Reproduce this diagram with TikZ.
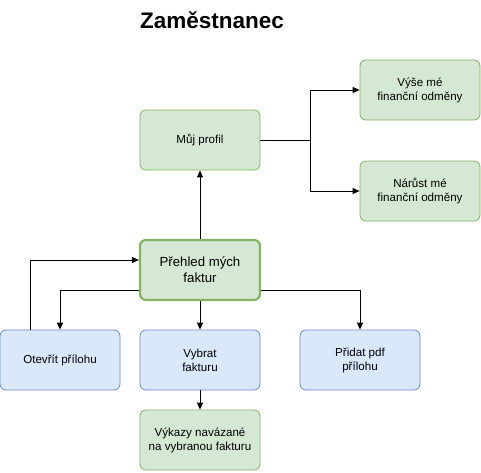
\documentclass[tikz,border=0pt]{standalone}
\usepackage{fontspec}
\setmainfont{Liberation Sans}
\usetikzlibrary{arrows.meta}
\definecolor{gfill}{HTML}{D5E8D4}
\definecolor{gline}{HTML}{82B366}
\definecolor{bfill}{HTML}{DAE8FC}
\definecolor{bline}{HTML}{6C8EBF}
\begin{document}
\begin{tikzpicture}[x=1pt,y=-1pt,
  box/.style={draw, rounded corners=6pt, minimum width=120pt, minimum height=60pt, align=center, font=\fontsize{11.6}{14}\selectfont, line width=0.8pt, inner sep=2pt},
  gbox/.style={box, draw=gline, fill=gfill},
  bbox/.style={box, draw=bline, fill=bfill},
  conn/.style={draw=black, line width=0.9pt, -{Triangle[length=7pt,width=6pt]}}
]
\useasboundingbox (0,0) rectangle (481,472);
\node[font=\fontsize{22.5}{26}\selectfont\bfseries] (title) at (212,20) {Zaměstnanec};
\node[gbox] (profil) at (200,140) {Můj profil};
\node[gbox] (vyse) at (420,90) {Výše mé\\finanční odměny};
\node[gbox] (narust) at (420,191) {Nárůst mé\\finanční odměny};
\node[gbox, line width=2.2pt, font=\fontsize{13.2}{16}\selectfont] (prehled) at (200,270) {Přehled mých\\faktur};
\node[bbox] (otevrit) at (60,360) {Otevřít přílohu};
\node[bbox] (vybrat) at (200,360) {Vybrat\\fakturu};
\node[bbox] (pridat) at (360,360) {Přidat pdf\\přílohu};
\node[gbox] (vykazy) at (200,440) {Výkazy navázané\\na vybranou fakturu};
\coordinate (j) at (310,140);
\draw[conn] (profil.east) -- (j) |- (vyse.west);
\draw[conn] (j) |- (narust.west);
\draw[conn] (prehled.north) -- (profil.south);
\draw[conn] (prehled.west |- 0,290) -| (otevrit.north);
\draw[conn] (prehled.east |- 0,290) -| (pridat.north);
\draw[conn] (prehled.south) -- (vybrat.north);
\draw[conn] (otevrit.north -| 30,0) |- (prehled.west |- 0,260);
\draw[conn] (vybrat.south) -- (vykazy.north);
\end{tikzpicture}
\end{document}
